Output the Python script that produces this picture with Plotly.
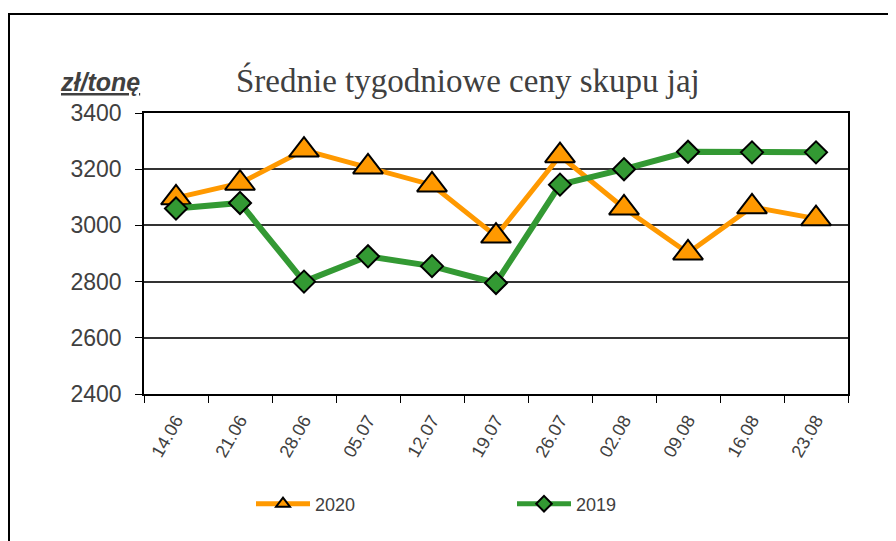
import plotly.graph_objects as go

weeks = ["14.06", "21.06", "28.06", "05.07", "12.07", "19.07",
         "26.07", "02.08", "09.08", "16.08", "23.08"]
prices_2020 = [3098, 3150, 3268, 3208, 3144, 2962, 3248, 3062, 2902, 3066, 3024]
prices_2019 = [3060, 3080, 2800, 2890, 2855, 2795, 3145, 3200, 3262, 3260, 3260]
y_ticks = [2400, 2600, 2800, 3000, 3200, 3400]

# page has an 8px body margin; work in page coordinates
OFF = 8
W, H = 888, 533
PL, PT, PW, PH = 144, 113, 704, 281          # plot area in page px
L, T = PL - OFF, PT - OFF
R, B = W - L - PW, H - T - PH

def px(x):
    return (x - PL) / PW

def py(y):
    return (PT + PH - y) / PH

fig = go.Figure()
fig.add_trace(go.Scatter(
    x=weeks, y=prices_2020, name="2020", mode="lines+markers",
    line=dict(color="#FF9900", width=5),
    marker=dict(symbol="triangle-up", size=26, color="#FF9900",
                line=dict(color="black", width=2)),
))
fig.add_trace(go.Scatter(
    x=weeks, y=prices_2019, name="2019", mode="lines+markers",
    line=dict(color="#339933", width=6),
    marker=dict(symbol="diamond", size=17, color="#339933",
                line=dict(color="black", width=2)),
))

fig.update_layout(
    width=W, height=H,
    margin=dict(l=L, r=R, t=T, b=B),
    paper_bgcolor="white", plot_bgcolor="white",
    font=dict(family="Liberation Sans, Arial, sans-serif", color="#404040"),
    showlegend=True,
    legend=dict(orientation="h", x=px(251), y=py(504), xanchor="left", yanchor="middle",
                font=dict(size=18, color="#404040"),
                entrywidth=192, entrywidthmode="pixels", itemsizing="constant",
                itemwidth=54, bgcolor="rgba(0,0,0,0)"),
    xaxis=dict(type="category", categoryorder="array", categoryarray=weeks,
               range=[-0.5, len(weeks) - 0.5], autorange=False,
               showline=True, linecolor="black", linewidth=1.5, mirror=True,
               ticks="outside", tickson="boundaries", ticklen=7, tickcolor="black",
               tickangle=-60, tickfont=dict(size=18, color="#404040"),
               showgrid=False, ticklabelstandoff=7),
    yaxis=dict(range=[2400, 3400], tickvals=y_ticks,
               showline=True, linecolor="black", linewidth=1.5, mirror=True,
               ticks="outside", ticklen=7, tickcolor="black",
               tickfont=dict(size=23, color="#404040"),
               showgrid=True, gridcolor="#333333", gridwidth=1.5,
               zeroline=False, ticklabelstandoff=9),
    annotations=[
        dict(text="Średnie tygodniowe ceny skupu jaj", xref="paper", yref="paper",
             x=px(468), y=py(80), xanchor="center", yanchor="middle", showarrow=False,
             font=dict(family="Liberation Serif, serif", size=33, color="#404040")),
        dict(text="<b><i><u>zł/tonę</u></i></b>", xref="paper", yref="paper",
             x=px(100), y=py(82), xanchor="center", yanchor="middle", showarrow=False,
             font=dict(family="Liberation Sans, Arial, sans-serif", size=25, color="#404040")),
    ],
    shapes=[
        dict(type="rect", xref="paper", yref="paper",
             x0=px(9), x1=px(920), y0=py(14), y1=py(560),
             line=dict(color="black", width=2), fillcolor="rgba(0,0,0,0)", layer="below"),
    ],
)

fig.write_html("out.html")
